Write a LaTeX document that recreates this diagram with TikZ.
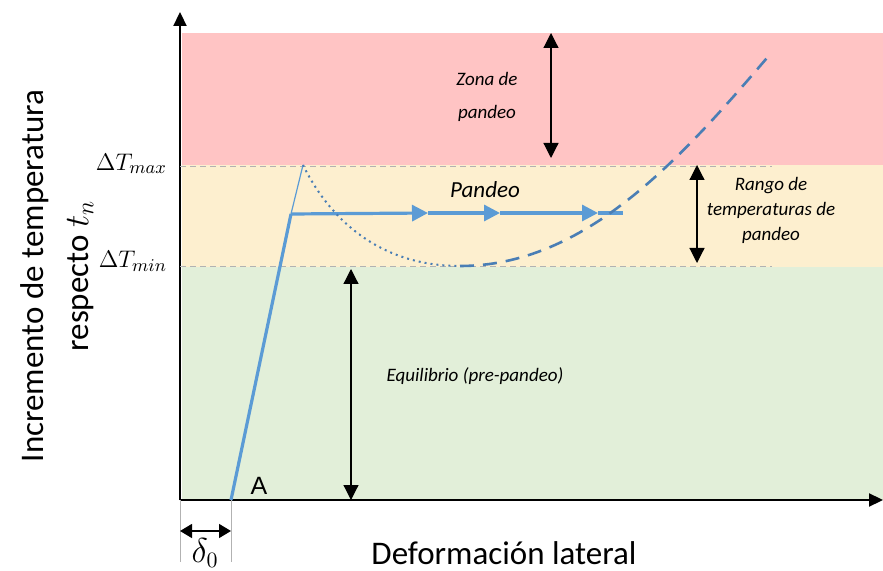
\documentclass[tikz,border=0pt]{standalone}
\usepackage{fontspec}
\setmainfont{Carlito}
\newfontfamily\arialfont{Liberation Sans}
\usetikzlibrary{arrows.meta}

\definecolor{zonared}{HTML}{FFC4C4}
\definecolor{zonayel}{HTML}{FDEFCF}
\definecolor{zonagrn}{HTML}{E2EFD9}
\definecolor{pathblue}{HTML}{5B9BD5}
\definecolor{curveblue}{HTML}{4A7EB5}

\tikzset{
  band/.style={draw=none},
  refline/.style={gray!60, densely dashed, line width=0.4pt},
  axisline/.style={black, line width=1.1pt, -{Triangle[length=7pt,width=6.5pt]}},
  dimarrow/.style={black, line width=0.6pt, {Triangle[length=7.5pt,width=7.5pt]}-{Triangle[length=7.5pt,width=7.5pt]}},
  loadpath/.style={pathblue, line width=1.6pt},
  flowtip/.style={loadpath, -{Triangle[length=8pt,width=8pt]}},
  zonetext/.style={font=\itshape\fontsize{9.5}{12.5}\selectfont, align=center},
  boundlabel/.style={font=\fontsize{12.5}{15}\selectfont, anchor=east}
}

\begin{document}
\begin{tikzpicture}[x=0.5pt, y=-0.5pt]
    \useasboundingbox (0,0) rectangle (883,571);

    % zonas de fondo
    \fill[zonared] (182,33) rectangle (883,165);
    \fill[zonayel] (182,165) rectangle (883,267);
    \fill[zonagrn] (182,267) rectangle (883,500);

    % ejes
    \coordinate (O) at (180,500);
    \coordinate (ytop) at (180,12);
    \coordinate (xend) at (883,500);
    \draw[axisline] (O) -- (ytop);
    \draw[axisline] (O) -- (xend);

    % limites de temperatura
    \coordinate (tmaxL) at (180,166);
    \coordinate (tmaxR) at (772,166);
    \coordinate (tminL) at (180,266);
    \coordinate (tminR) at (772,266);
    \draw[refline] (tmaxL) -- (tmaxR);
    \draw[refline] (tminL) -- (tminR);
    \node[boundlabel] (tmax) at (174,164) {$\Delta T_{max}$};
    \node[boundlabel] (tmin) at (174,261) {$\Delta T_{min}$};

    % trayectoria de carga
    \coordinate (A) at (231,500);
    \coordinate (knee) at (291,214);
    \coordinate (peak) at (303,165);
    \coordinate (f1) at (428,213);
    \coordinate (f2) at (500,213);
    \coordinate (f3) at (598,213);
    \coordinate (fend) at (623,213);
    \coordinate (valley) at (460,266);
    \coordinate (cend) at (772,52);
    \draw[pathblue, line width=0.6pt] (knee) -- (peak);
    \draw[loadpath] (A) -- (knee);
    \draw[flowtip] (knee) -- (f1);
    \draw[flowtip] (f1) -- (f2);
    \draw[flowtip] (f2) -- (f3);
    \draw[loadpath] (f3) -- (fend);
    \draw[curveblue, line width=1pt, dotted] (peak) .. controls (330,220) and (380,266) .. (valley);
    \draw[curveblue, line width=1.3pt, dash pattern=on 7pt off 4.5pt] (valley) .. controls (585,266) and (680,160) .. (cend);

    % cotas
    \coordinate (zTop) at (551,33);
    \coordinate (zBot) at (551,158);
    \coordinate (rTop) at (697,165);
    \coordinate (rBot) at (697,263);
    \coordinate (eTop) at (351,269);
    \coordinate (eBot) at (351,500);
    \draw[dimarrow] (zTop) -- (zBot);
    \draw[dimarrow] (rTop) -- (rBot);
    \draw[dimarrow] (eTop) -- (eBot);

    % desplazamiento inicial
    \coordinate (d0a) at (180,500);
    \coordinate (d0b) at (231,500);
    \coordinate (d0aLow) at (180,562);
    \coordinate (d0bLow) at (231,562);
    \coordinate (d0L) at (180,531);
    \coordinate (d0R) at (231,531);
    \draw[gray!60, line width=0.4pt] (d0a) -- (d0aLow);
    \draw[gray!60, line width=0.4pt] (d0b) -- (d0bLow);
    \draw[black, line width=0.6pt, {Triangle[length=6pt,width=7pt]}-{Triangle[length=6pt,width=7pt]}] (d0L) -- (d0R);
    \node[font=\fontsize{16}{18}\selectfont] (delta) at (205,553) {$\delta_0$};

    % textos
    \node[zonetext, font=\itshape\fontsize{9.5}{16.5}\selectfont] (zona) at (487,97) {Zona de\\pandeo};
    \node[zonetext] (rango) at (771,210) {Rango de\\temperaturas de\\pandeo};
    \node[zonetext] (equil) at (475,376) {Equilibrio (pre-pandeo)};
    \node[font=\itshape\fontsize{11.5}{14}\selectfont] (pandeo) at (485,190) {Pandeo};
    \node[font=\arialfont\fontsize{12.5}{14}\selectfont] (labA) at (259,486) {A};
    \node[font=\fontsize{16.5}{19}\selectfont, inner sep=1pt] (xlab) at (504,553) {Deformación lateral};
    \node[font=\fontsize{16.5}{22.5}\selectfont, align=center, rotate=90] (ylab) at (57,276) {Incremento de temperatura\\respecto $t_n$};
\end{tikzpicture}
\end{document}
